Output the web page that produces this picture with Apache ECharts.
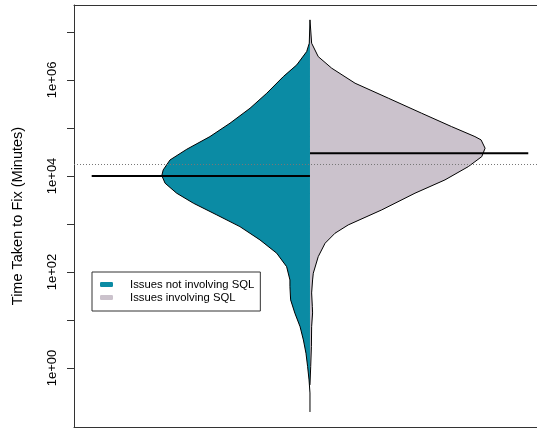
<!DOCTYPE html>
<html>
<head>
<meta charset="utf-8">
<script src="https://cdn.jsdelivr.net/npm/echarts@6/dist/echarts.min.js"></script>
<style>html,body{margin:0;padding:0;background:#fff}#c{width:537px;height:430px}</style>
</head>
<body>
<div id="c"></div>
<script>
// log10(minutes) along the bean outline and bean half-width (density)
const logMinutesNoSQL = [7.25, 6.764, 6.59, 6.313, 6.069, 5.723, 5.41, 5.098, 4.819, 4.556, 4.333, 4.125, 4.006, 3.848, 3.64, 3.431, 3.188, 2.944, 2.667, 2.39, 2.11, 1.833, 1.694, 1.417, 1.14, 0.86, 0.583, 0.306, 0.027, -0.25, -0.521, -0.917];
const densityNoSQL = [0, 0.003, 0.014, 0.056, 0.113, 0.183, 0.254, 0.339, 0.424, 0.522, 0.593, 0.622, 0.628, 0.614, 0.565, 0.494, 0.395, 0.297, 0.212, 0.141, 0.099, 0.085, 0.085, 0.082, 0.064, 0.042, 0.028, 0.017, 0.010, 0.004, 0, 0];
const logMinutesSQL = [7.25, 6.764, 6.485, 6.244, 5.931, 5.619, 5.306, 5.027, 4.819, 4.75, 4.577, 4.402, 4.194, 3.917, 3.64, 3.292, 2.979, 2.806, 2.598, 2.319, 1.973, 1.833, 1.563, 1.277, 1.146, 0.86, 0.444, 0.027, -0.354];
const densitySQL = [0, 0.007, 0.035, 0.092, 0.191, 0.332, 0.473, 0.6, 0.699, 0.725, 0.742, 0.728, 0.671, 0.572, 0.445, 0.304, 0.162, 0.106, 0.064, 0.035, 0.014, 0.011, 0.007, 0.010, 0.011, 0.007, 0.006, 0.003, 0];
const medianNoSQL = 4.0;
const medianSQL = 4.473;
const overallMedian = 4.25;
const seriesNames = ['Issues not involving SQL', 'Issues involving SQL'];
const tickValues = [0, 1, 2, 3, 4, 5, 6, 7];
const labelValues = [0, 2, 4, 6];

const TEAL = '#0b8ba4';
const MAUVE = '#cbc2cc';
const BEAN_LINE_LEN = 0.925;
const FONT = 'Liberation Sans, Arial, sans-serif';

function beanRenderer(logs, dens, side, median, color) {
  return function (params, api) {
    const outer = logs.map((v, i) => api.coord([side * dens[i], v]));
    const poly = [api.coord([0, logs[0]])].concat(outer, [api.coord([0, logs[logs.length - 1]])]);
    const m0 = api.coord([0, median]);
    const m1 = api.coord([side * BEAN_LINE_LEN, median]);
    return {
      type: 'group',
      children: [
        { type: 'polygon', shape: { points: poly }, style: { fill: color, stroke: null } },
        { type: 'polyline', shape: { points: outer }, style: { fill: null, stroke: '#000', lineWidth: 1 } },
        { type: 'line', shape: { x1: m0[0], y1: m0[1], x2: m1[0], y2: m1[1] }, style: { stroke: '#000', lineWidth: 2 } }
      ]
    };
  };
}

const boxAxis = (pos) => ({
  type: 'value', min: -1, max: 0.962, position: pos,
  axisLine: { show: true, onZero: false, lineStyle: { color: '#333', width: 1 } },
  axisTick: { show: false }, axisLabel: { show: false }, splitLine: { show: false }
});

const chart = echarts.init(document.getElementById('c'), null, { renderer: 'canvas' });
chart.setOption({
  animation: false,
  backgroundColor: '#fff',
  textStyle: { fontFamily: FONT },
  grid: { left: 74, right: 0, top: 5, bottom: 3, show: false },
  xAxis: [boxAxis('bottom'), boxAxis('top')],
  yAxis: {
    type: 'value', min: -1.23, max: 7.56,
    name: 'Time Taken to Fix (Minutes)', nameLocation: 'middle', nameGap: 49, nameRotate: 90,
    nameTextStyle: { fontSize: 14.5, color: '#000', fontFamily: FONT },
    axisLine: { show: true, onZero: false, lineStyle: { color: '#333', width: 1 } },
    splitLine: { show: false },
    axisTick: { show: true, length: 7, lineStyle: { color: '#333' }, customValues: tickValues },
    axisLabel: {
      customValues: labelValues, rotate: 90, margin: 15, fontSize: 13, color: '#000',
      align: 'center', verticalAlign: 'bottom',
      fontFamily: FONT,
      formatter: v => '1e+' + String(Math.round(v)).padStart(2, '0')
    }
  },
  legend: {
    orient: 'vertical', left: 92, top: 272,
    padding: [6, 6, 7, 8], itemGap: 0, itemWidth: 13, itemHeight: 5, icon: 'roundRect',
    borderColor: '#333', borderWidth: 1, borderRadius: 0, backgroundColor: '#fff',
    textStyle: { fontSize: 11.3, lineHeight: 13, color: '#000', padding: [0, 0, 0, 12], fontFamily: FONT },
    data: seriesNames
  },
  series: [
    {
      type: 'line', data: [], z: 1, silent: true,
      markLine: {
        silent: true, symbol: ['none', 'none'], label: { show: false },
        lineStyle: { color: '#777', type: [1, 2], width: 1 },
        data: [{ yAxis: overallMedian }]
      }
    },
    {
      name: seriesNames[0], type: 'custom', z: 3, silent: true,
      itemStyle: { color: TEAL },
      data: [[0, medianNoSQL]],
      renderItem: beanRenderer(logMinutesNoSQL, densityNoSQL, -1, medianNoSQL, TEAL)
    },
    {
      name: seriesNames[1], type: 'custom', z: 3, silent: true,
      itemStyle: { color: MAUVE },
      data: [[0, medianSQL]],
      renderItem: beanRenderer(logMinutesSQL, densitySQL, 1, medianSQL, MAUVE)
    }
  ]
});
</script>
</body>
</html>
